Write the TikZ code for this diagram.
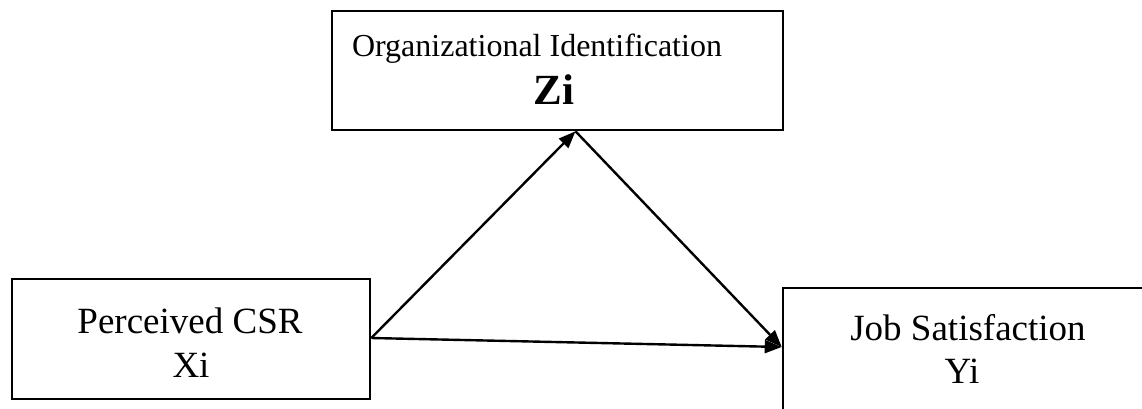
\documentclass[tikz,border=0pt]{standalone}
\usepackage{fontspec}
\setmainfont{Liberation Serif}
\usetikzlibrary{arrows.meta,calc}
\tikzset{
  box/.style={draw=black, line width=2.6pt, rectangle, inner sep=0pt},
  lbl/.style={anchor=base, inner sep=0pt},
  conn/.style={line width=2.4pt, -{Triangle[length=17pt,width=13pt]}}
}
\begin{document}
\begin{tikzpicture}[x=1pt,y=-1pt]
\useasboundingbox (0,0) rectangle (1142,409);
\clip (0,0) rectangle (1142,409);
\fill[white] (0,0) rectangle (1142,409);
% boxes
\node[box, minimum width=451pt, minimum height=119pt] (Z) at (557.5,70.5) {};
\node[box, minimum width=358pt, minimum height=120pt] (X) at (191,339) {};
\node[box, minimum width=400pt, minimum height=140pt] (Y) at (983,358) {};
% texts
\node[lbl, font=\fontsize{32}{38}\selectfont] (zt1) at (537,57) {Organizational Identification};
\node[lbl, font=\fontsize{43}{50}\selectfont\bfseries] (zt2) at (554,105) {Zi};
\node[lbl, font=\fontsize{37}{44}\selectfont] (xt1) at (190,333) {Perceived CSR};
\node[lbl, font=\fontsize{37}{44}\selectfont] (xt2) at (191,377) {Xi};
\node[lbl, font=\fontsize{37}{44}\selectfont] (yt1) at (968,340) {Job Satisfaction};
\node[lbl, font=\fontsize{37}{44}\selectfont] (yt2) at (962,383) {Yi};
% connectors
\coordinate (zin) at ([xshift=18pt]Z.south);
\coordinate (yin) at ([yshift=11pt]Y.west);
\coordinate (xout) at ([yshift=1pt]X.east);
\draw[conn] (xout) -- (zin);
\draw[conn] (zin) -- (yin);
\draw[conn] (xout) -- (yin);
\end{tikzpicture}
\end{document}
